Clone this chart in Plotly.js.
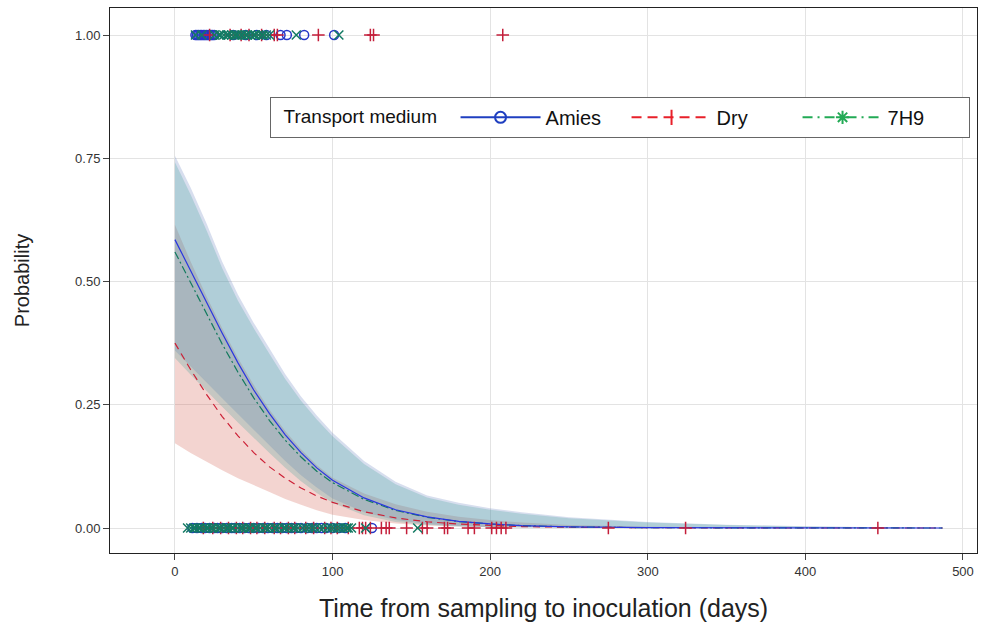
<!DOCTYPE html>
<html>
<head>
<meta charset="utf-8">
<script src="https://cdn.plot.ly/plotly-3.0.1.min.js"></script>
<style>
html,body{margin:0;padding:0;background:#fff;}
#chart{width:982px;height:628px;}
</style>
</head>
<body>
<div id="chart"></div>
<script>
// ---- data ----
const days = [0,10,20,30,40,50,60,70,80,90,100,120,140,160,180,200,220,250,300,350,400,450,487];

const amiesEst = [0.585,0.521,0.457,0.395,0.335,0.280,0.232,0.189,0.153,0.122,0.097,0.061,0.037,0.0225,0.0136,0.0082,0.0049,0.0023,0.0006,0.0002,0.0001,0.0000,0.0000];
const amiesUp  = [0.755,0.690,0.618,0.540,0.473,0.416,0.364,0.312,0.267,0.228,0.193,0.136,0.094,0.066,0.051,0.040,0.032,0.022,0.012,0.0067,0.0037,0.0020,0.0014];
const amiesLo  = [0.360,0.327,0.295,0.263,0.231,0.198,0.167,0.136,0.107,0.082,0.060,0.032,0.016,0.008,0.004,0.002,0.001,0.0005,0.0001,0,0,0,0];

const h9Est = [0.560,0.497,0.434,0.373,0.316,0.264,0.218,0.178,0.144,0.115,0.092,0.058,0.0356,0.0217,0.0132,0.0080,0.0049,0.0023,0.0006,0.0002,0.0001,0,0];
const h9Up  = [0.742,0.676,0.604,0.527,0.461,0.405,0.353,0.302,0.258,0.220,0.186,0.130,0.089,0.062,0.047,0.037,0.029,0.020,0.011,0.006,0.0033,0.0018,0.0012];
const h9Lo  = [0.345,0.311,0.278,0.246,0.214,0.182,0.152,0.122,0.095,0.071,0.051,0.026,0.012,0.006,0.003,0.0015,0.0008,0.0003,0.0001,0,0,0,0];

const dryEst = [0.375,0.321,0.271,0.226,0.187,0.153,0.124,0.101,0.081,0.065,0.052,0.033,0.0204,0.0127,0.0079,0.0049,0.0030,0.0015,0.00045,0.00014,0.00004,0,0];
const dryUp  = [0.615,0.540,0.470,0.405,0.345,0.290,0.240,0.197,0.160,0.128,0.102,0.070,0.048,0.033,0.023,0.016,0.011,0.006,0.0025,0.001,0.0004,0.0002,0.0001];
const dryLo  = [0.172,0.152,0.135,0.117,0.101,0.087,0.073,0.059,0.047,0.036,0.027,0.016,0.009,0.005,0.003,0.0015,0.0008,0.0004,0.0001,0,0,0,0];

// observed outcomes (rug markers): times at outcome 0 and 1
const amiesT0 = [11,14,17,19,22,25,27,30,33,36,38,41,44,47,50,53,56,59,62,65,68,71,74,77,80,84,87,90,93,96,100,104,108,125];
const dryT0   = [18,24,29,34,39,43,48,52,57,63,67,72,76,83,88,95,99,103,110,117,119,121,124,131,134,136,147,157,160,171,173,186,190,201,204,207,210,275,324,446];
const h9T0    = [8,10,12,13,15,16,18,20,21,23,24,26,28,29,31,33,34,36,37,40,42,43,45,47,48,51,52,54,57,58,60,63,64,66,69,70,72,75,76,78,81,83,85,87,89,92,94,97,99,101,103,105,107,109,110,112,121,154];

const amiesT1 = [13,14,15,16,17,18,19,20,21,22,23,24,25,37,45,52,58,67,71,82,101];
const dryT1   = [22,35,42,47,55,63,65,91,124,126,208];
const h9T1    = [13,17,25,28,29,31,33,34,36,38,39,40,42,43,45,46,48,50,51,53,55,56,58,60,77,104];

const xTicks = [0,100,200,300,400,500];
const yTicks = [0,0.25,0.5,0.75,1];
const groupNames = ['Amies','Dry','7H9'];
const legendTitle = 'Transport medium';

// ---- styles ----
const C = {
  amies:{line:'#2a36e0', mark:'#2536c8', fill:'rgba(95,123,187,0.25)', leg:'#1f3fc0'},
  dry:{line:'#cc1f35', mark:'#c41e3a', fill:'rgba(207,83,67,0.25)', leg:'#e8202a'},
  h9:{line:'#137a5e', mark:'#137a63', fill:'rgba(60,160,150,0.25)', leg:'#22aa55'}
};

function band(up, lo, fill){
  return {
    x: days.concat(days.slice().reverse()),
    y: up.concat(lo.slice().reverse()),
    type:'scatter', mode:'lines', fill:'toself', fillcolor:fill,
    line:{width:0}, hoverinfo:'skip', showlegend:false
  };
}
function curve(y, color, dash){
  return {x:days, y:y, type:'scatter', mode:'lines',
    line:{color:color, width:1.2, dash:dash}, showlegend:false};
}
function rug(t, val, color, symbol){
  return {x:t, y:t.map(()=>val), type:'scatter', mode:'markers', showlegend:false,
    marker:{symbol:symbol, size:9, color:color, line:{color:color, width:1.5}}};
}
function legendKey(name, color, dash, symbol){
  return {x:[null], y:[null], type:'scatter', mode:'lines+markers', name:name,
    line:{color:color, width:2, dash:dash},
    marker:{symbol:symbol, size:11, color:color, line:{color:color, width:2}}};
}

const traces = [
  band(dryUp, dryLo, C.dry.fill),
  band(amiesUp, amiesLo, C.amies.fill),
  band(h9Up, h9Lo, C.h9.fill),
  curve(dryEst, C.dry.line, '7px,5px'),
  curve(h9Est, C.h9.line, '8px,3px,2px,3px'),
  curve(amiesEst, C.amies.line, 'solid'),
  rug(amiesT0, 0, C.amies.mark, 'circle-open'),
  rug(dryT0, 0, C.dry.mark, 'cross-thin-open'),
  rug(h9T0, 0, C.h9.mark, 'x-thin-open'),
  rug(amiesT1, 1, C.amies.mark, 'circle-open'),
  rug(dryT1, 1, C.dry.mark, 'cross-thin-open'),
  rug(h9T1, 1, C.h9.mark, 'x-thin-open'),
  legendKey(groupNames[0], C.amies.leg, 'solid', 'circle-open'),
  legendKey(groupNames[1], C.dry.leg, '10px,6px', 'line-ns-open'),
  legendKey(groupNames[2], C.h9.leg, '10px,5px,2px,5px', 'asterisk-open')
];

const font = 'Liberation Sans, Arial, sans-serif';
const layout = {
  width:982, height:628,
  margin:{l:110, r:5, t:8, b:75},
  paper_bgcolor:'#fff', plot_bgcolor:'#fff',
  font:{family:font, color:'#333', size:13},
  xaxis:{
    range:[-41.2, 508.9], tickvals:xTicks, ticktext:xTicks.map(String),
    showgrid:true, gridcolor:'#e3e3e3', gridwidth:1, zeroline:false,
    showline:true, linecolor:'#222', linewidth:1, mirror:true,
    ticks:'outside', ticklen:6, tickcolor:'#444',
    tickfont:{size:13, color:'#333'},
    title:{text:'Time from sampling to inoculation (days)', font:{size:25, color:'#222'}, standoff:21}
  },
  yaxis:{
    range:[-0.0507, 1.0548], tickvals:yTicks, ticktext:yTicks.map(v=>v.toFixed(2)),
    showgrid:true, gridcolor:'#e3e3e3', gridwidth:1, zeroline:false,
    showline:true, linecolor:'#222', linewidth:1, mirror:true,
    ticks:'outside', ticklen:6, tickcolor:'#444',
    tickfont:{size:13, color:'#333'},
    title:{text:'Probability', font:{size:20, color:'#222'}, standoff:40}
  },
  showlegend:true,
  legend:{
    orientation:'h', x:0.1845, y:0.837, xanchor:'left', yanchor:'top',
    bgcolor:'#fff', bordercolor:'#666', borderwidth:1,
    font:{size:20, color:'#111'}, itemwidth:80, entrywidth:76,
    title:{text:'\u00a0\u00a0' + legendTitle + '\u00a0\u00a0', side:'left', font:{size:19, color:'#111'}},
    traceorder:'normal', itemclick:false
  }
};

Plotly.newPlot('chart', traces, layout, {staticPlot:true, displayModeBar:false});
</script>
</body>
</html>
